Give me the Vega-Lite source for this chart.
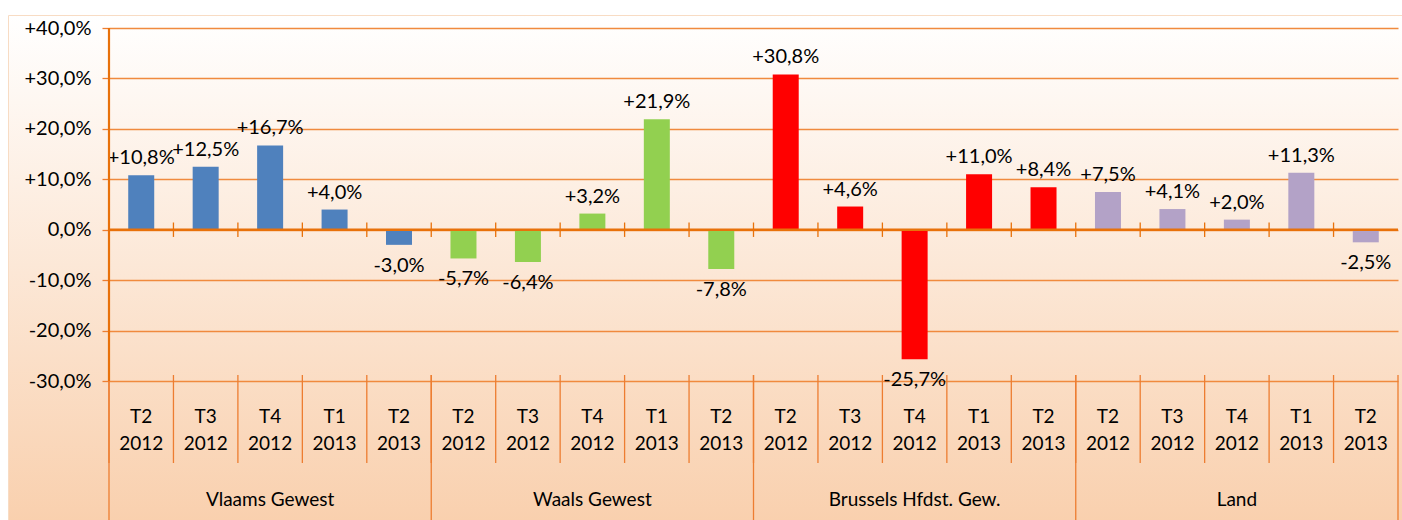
{
  "$schema": "https://vega.github.io/schema/vega-lite/v6.json",
  "width": 1394,
  "height": 505,
  "autosize": {"type": "none"},
  "padding": {"left": 8, "top": 15, "right": 0, "bottom": 0},
  "background": "#ffffff",
  "title": {
    "text": "Variatie in % t.o.v. het overeenstemmende trimester van het voorgaande jaar",
    "anchor": "start",
    "frame": "group",
    "font": "Lato",
    "fontSize": 30,
    "fontWeight": "normal",
    "color": "#953735",
    "baseline": "alphabetic",
    "offset": -3
  },
  "config": {
    "font": "Lato",
    "view": {
      "fill": {
        "gradient": "linear",
        "x1": 0, "y1": 0, "x2": 0, "y2": 1,
        "stops": [
          {"offset": 0, "color": "#ffffff"},
          {"offset": 1, "color": "#f9d0ae"}
        ]
      },
      "stroke": "#f8dcc4",
      "strokeWidth": 1
    },
    "axis": {"labelFont": "Lato", "labelColor": "#000000"}
  },
  "data": {
    "values": [
      {"region": "Vlaams Gewest", "period": "T2 2012", "cat": "Vlaams Gewest T2 2012", "value": 0.108, "label": "+10,8%"},
      {"region": "Vlaams Gewest", "period": "T3 2012", "cat": "Vlaams Gewest T3 2012", "value": 0.125, "label": "+12,5%"},
      {"region": "Vlaams Gewest", "period": "T4 2012", "cat": "Vlaams Gewest T4 2012", "value": 0.167, "label": "+16,7%"},
      {"region": "Vlaams Gewest", "period": "T1 2013", "cat": "Vlaams Gewest T1 2013", "value": 0.040, "label": "+4,0%"},
      {"region": "Vlaams Gewest", "period": "T2 2013", "cat": "Vlaams Gewest T2 2013", "value": -0.030, "label": "-3,0%"},
      {"region": "Waals Gewest", "period": "T2 2012", "cat": "Waals Gewest T2 2012", "value": -0.057, "label": "-5,7%"},
      {"region": "Waals Gewest", "period": "T3 2012", "cat": "Waals Gewest T3 2012", "value": -0.064, "label": "-6,4%"},
      {"region": "Waals Gewest", "period": "T4 2012", "cat": "Waals Gewest T4 2012", "value": 0.032, "label": "+3,2%"},
      {"region": "Waals Gewest", "period": "T1 2013", "cat": "Waals Gewest T1 2013", "value": 0.219, "label": "+21,9%"},
      {"region": "Waals Gewest", "period": "T2 2013", "cat": "Waals Gewest T2 2013", "value": -0.078, "label": "-7,8%"},
      {"region": "Brussels Hfdst. Gew.", "period": "T2 2012", "cat": "Brussels Hfdst. Gew. T2 2012", "value": 0.308, "label": "+30,8%"},
      {"region": "Brussels Hfdst. Gew.", "period": "T3 2012", "cat": "Brussels Hfdst. Gew. T3 2012", "value": 0.046, "label": "+4,6%"},
      {"region": "Brussels Hfdst. Gew.", "period": "T4 2012", "cat": "Brussels Hfdst. Gew. T4 2012", "value": -0.257, "label": "-25,7%"},
      {"region": "Brussels Hfdst. Gew.", "period": "T1 2013", "cat": "Brussels Hfdst. Gew. T1 2013", "value": 0.110, "label": "+11,0%"},
      {"region": "Brussels Hfdst. Gew.", "period": "T2 2013", "cat": "Brussels Hfdst. Gew. T2 2013", "value": 0.084, "label": "+8,4%"},
      {"region": "Land", "period": "T2 2012", "cat": "Land T2 2012", "value": 0.075, "label": "+7,5%"},
      {"region": "Land", "period": "T3 2012", "cat": "Land T3 2012", "value": 0.041, "label": "+4,1%"},
      {"region": "Land", "period": "T4 2012", "cat": "Land T4 2012", "value": 0.020, "label": "+2,0%"},
      {"region": "Land", "period": "T1 2013", "cat": "Land T1 2013", "value": 0.113, "label": "+11,3%"},
      {"region": "Land", "period": "T2 2013", "cat": "Land T2 2013", "value": -0.025, "label": "-2,5%"}
    ]
  },
  "encoding": {
    "x": {
      "field": "cat", "type": "nominal",
      "scale": {
        "domain": [
          "Vlaams Gewest T2 2012", "Vlaams Gewest T3 2012", "Vlaams Gewest T4 2012", "Vlaams Gewest T1 2013", "Vlaams Gewest T2 2013",
          "Waals Gewest T2 2012", "Waals Gewest T3 2012", "Waals Gewest T4 2012", "Waals Gewest T1 2013", "Waals Gewest T2 2013",
          "Brussels Hfdst. Gew. T2 2012", "Brussels Hfdst. Gew. T3 2012", "Brussels Hfdst. Gew. T4 2012", "Brussels Hfdst. Gew. T1 2013", "Brussels Hfdst. Gew. T2 2013",
          "Land T2 2012", "Land T3 2012", "Land T4 2012", "Land T1 2013", "Land T2 2013"
        ],
        "range": [101, 1390], "paddingInner": 0, "paddingOuter": 0
      },
      "axis": null
    }
  },
  "layer": [
    {
      "transform": [{"filter": "datum.value != null"}],
      "mark": {"type": "bar", "width": 26},
      "encoding": {
        "y": {
          "field": "value", "type": "quantitative",
          "scale": {"domain": [-0.57563, 0.42578], "nice": false, "zero": false},
          "axis": {
            "orient": "left", "offset": -101, "title": null,
            "values": [-0.3, -0.2, -0.1, 0, 0.1, 0.2, 0.3, 0.4],
            "labelExpr": "(datum.value > 0.0001 ? '+' : datum.value < -0.0001 ? '-' : '') + replace(format(abs(datum.value), '.1%'), '.', ',')",
            "labelFontSize": 20, "labelPadding": 11,
            "tickSize": 7, "tickColor": "#ED7D31", "tickWidth": 1.3,
            "domain": false,
            "grid": true, "gridColor": "#F08A3E", "gridWidth": 1.3
          }
        },
        "y2": {"datum": 0},
        "color": {
          "field": "region", "type": "nominal",
          "scale": {
            "domain": ["Vlaams Gewest", "Waals Gewest", "Brussels Hfdst. Gew.", "Land"],
            "range": ["#4F81BD", "#92D050", "#FF0000", "#B3A2C7"]
          },
          "legend": null
        }
      }
    },
    {
      "transform": [{"filter": "datum.value != null"}],
      "mark": {"type": "bar", "color": "#E8710A"},
      "encoding": {
        "y": {"datum": 0.0026, "type": "quantitative"},
        "y2": {"datum": -0.0026}
      }
    },
    {
      "transform": [{"filter": "datum.value != null"}],
      "mark": {"type": "rule", "color": "#E8710A", "strokeWidth": 1.3},
      "encoding": {
        "x": {"field": "cat", "type": "nominal", "bandPosition": 0},
        "y": {"datum": 0.0143, "type": "quantitative"},
        "y2": {"datum": -0.0143}
      }
    },
    {
      "transform": [{"filter": "datum.value >= 0"}],
      "mark": {"type": "text", "baseline": "alphabetic", "dy": -11, "fontSize": 20, "font": "Lato", "color": "#000000"},
      "encoding": {
        "y": {"field": "value", "type": "quantitative"},
        "text": {"field": "label", "type": "nominal"}
      }
    },
    {
      "transform": [{"filter": "datum.value < 0"}],
      "mark": {"type": "text", "baseline": "alphabetic", "dy": 27, "fontSize": 20, "font": "Lato", "color": "#000000"},
      "encoding": {
        "y": {"field": "value", "type": "quantitative"},
        "text": {"field": "label", "type": "nominal"}
      }
    },
    {
      "transform": [{"filter": "datum.value != null"}],
      "mark": {"type": "rule", "color": "#ED7D31", "strokeWidth": 1.3},
      "encoding": {
        "x": {"field": "cat", "type": "nominal", "bandPosition": 0},
        "y": {"datum": -0.2881, "type": "quantitative"},
        "y2": {"datum": -0.4626}
      }
    },
    {
      "transform": [{"filter": "datum.period === 'T2 2012'"}],
      "mark": {"type": "rule", "color": "#ED7D31", "strokeWidth": 1.3},
      "encoding": {
        "x": {"field": "cat", "type": "nominal", "bandPosition": 0},
        "y": {"datum": -0.2881, "type": "quantitative"},
        "y2": {"datum": -0.5756}
      }
    },
    {
      "transform": [{"filter": "datum.cat === 'Land T2 2013'"}],
      "mark": {"type": "rule", "color": "#ED7D31", "strokeWidth": 1.3},
      "encoding": {
        "x": {"field": "cat", "type": "nominal", "bandPosition": 1},
        "y": {"datum": -0.2881, "type": "quantitative"},
        "y2": {"datum": -0.5756}
      }
    },
    {
      "transform": [{"filter": "datum.cat === 'Vlaams Gewest T2 2012'"}],
      "mark": {"type": "rule", "color": "#E8710A", "strokeWidth": 2.2},
      "encoding": {
        "x": {"field": "cat", "type": "nominal", "bandPosition": 0},
        "y": {"datum": 0.4, "type": "quantitative"},
        "y2": {"datum": -0.3}
      }
    },
    {
      "transform": [{"filter": "datum.value != null"}],
      "mark": {"type": "text", "baseline": "alphabetic", "dy": 42, "fontSize": 19, "font": "Lato", "color": "#000000", "lineBreak": " ", "lineHeight": 27},
      "encoding": {
        "y": {"datum": -0.3, "type": "quantitative"},
        "text": {"field": "period", "type": "nominal"}
      }
    },
    {
      "transform": [{"filter": "datum.period === 'T4 2012'"}],
      "mark": {"type": "text", "baseline": "alphabetic", "dy": 125, "fontSize": 19, "font": "Lato", "color": "#000000"},
      "encoding": {
        "y": {"datum": -0.3, "type": "quantitative"},
        "text": {"field": "region", "type": "nominal"}
      }
    }
  ]
}
